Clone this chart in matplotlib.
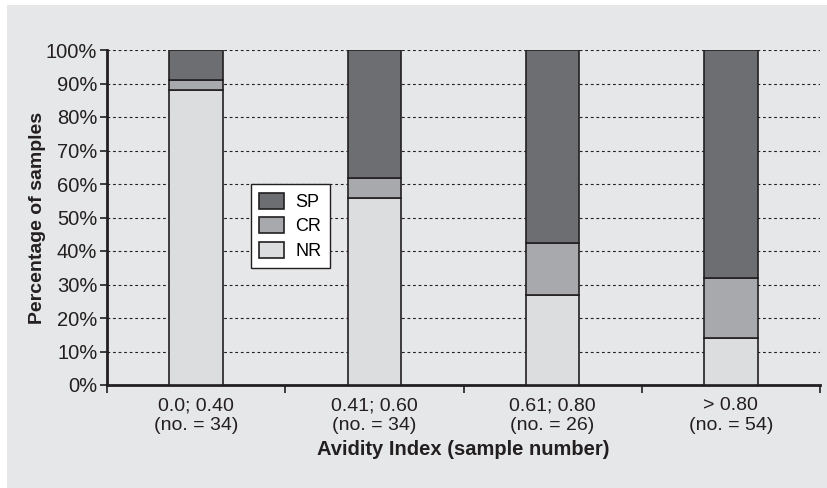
import matplotlib.pyplot as plt
from matplotlib.patches import Rectangle
import numpy as np

categories = ['0.0; 0.40\n(no. = 34)', '0.41; 0.60\n(no. = 34)',
              '0.61; 0.80\n(no. = 26)', '> 0.80\n(no. = 54)']
nr = [88.2, 55.9, 26.9, 14.0]
cr = [2.9, 5.9, 15.4, 18.0]
sp = [8.9, 38.2, 57.7, 68.0]
y_ticks = [0, 10, 20, 30, 40, 50, 60, 70, 80, 90, 100]

plt.rcParams['font.family'] = ['Liberation Sans', 'DejaVu Sans']

bg = '#e6e7e8'
edge = '#231f20'
fig = plt.figure(figsize=(8.28, 4.88), dpi=100)
fig.patch.set_facecolor('white')
fig.patches.append(Rectangle((7 / 828, 0), 1, 1 - 5 / 488, transform=fig.transFigure,
                             facecolor=bg, edgecolor='none', zorder=-10))

ax = fig.add_axes([107 / 828, 1 - 385 / 488, 713 / 828, 335 / 488])
ax.set_facecolor(bg)

x = np.arange(len(categories))
w = 0.3
ax.bar(x, nr, w, color='#dcdddf', edgecolor=edge, linewidth=1.2, label='NR', zorder=3)
ax.bar(x, cr, w, bottom=nr, color='#a7a9ac', edgecolor=edge, linewidth=1.2, label='CR', zorder=3)
ax.bar(x, sp, w, bottom=np.array(nr) + np.array(cr), color='#6d6e71', edgecolor=edge,
       linewidth=1.2, label='SP', zorder=3)

ax.set_xlim(-0.5, len(categories) - 0.5)
ax.set_ylim(0, 100)
ax.set_yticks(y_ticks)
ax.set_yticklabels([f'{t}%' for t in y_ticks], fontsize=14.5, color='#231f20')
ax.yaxis.grid(True, linestyle=(0, (2.5, 2.5)), color='#231f20', linewidth=0.8, zorder=1)

ax.set_xticks(np.arange(-0.5, len(categories), 1))
ax.set_xticklabels([])
ax.set_xticks(x, minor=True)
ax.set_xticklabels(categories, minor=True, fontsize=14, color='#231f20', linespacing=1.2)
ax.tick_params(axis='x', which='major', length=6, width=1.2, color=edge, direction='out')
ax.tick_params(axis='x', which='minor', length=0, pad=9)
ax.tick_params(axis='y', length=5, width=1.2, color=edge, pad=2)

for s in ['top', 'right']:
    ax.spines[s].set_visible(False)
for s in ['left', 'bottom']:
    ax.spines[s].set_linewidth(2)
    ax.spines[s].set_color(edge)

ax.set_ylabel('Percentage of samples', fontsize=14, fontweight='bold', color='#231f20')
ax.yaxis.set_label_coords(-0.085, 0.5)
ax.set_xlabel('Avidity Index (sample number)', fontsize=14.5, fontweight='bold', color='#231f20',
              labelpad=4)

handles, labels = ax.get_legend_handles_labels()
leg = ax.legend(handles[::-1], labels[::-1], loc='lower left', bbox_to_anchor=(0.202, 0.349),
                borderaxespad=0, fontsize=13, frameon=True, fancybox=False, edgecolor=edge,
                framealpha=1, handlelength=1.4, handleheight=1.0, handletextpad=0.6,
                borderpad=0.45, labelspacing=0.35)
leg.get_frame().set_linewidth(1.0)

fig.savefig('out.png', dpi=100, facecolor=fig.get_facecolor())
